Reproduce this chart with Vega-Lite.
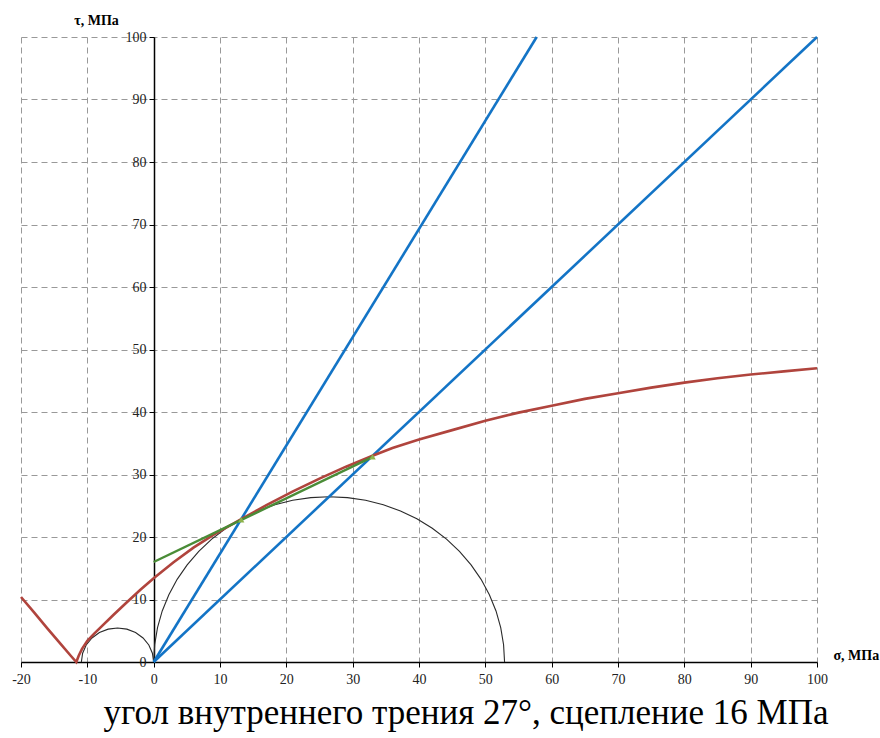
{
  "$schema": "https://vega.github.io/schema/vega-lite/v6.json",
  "width": 796,
  "height": 625,
  "autosize": "none",
  "padding": {"left": 21, "top": 37, "right": 63, "bottom": 76},
  "background": "white",
  "config": {
    "view": {"stroke": null},
    "axis": {
      "labelFont": "Times New Roman, Liberation Serif, DejaVu Serif, serif",
      "labelFontSize": 14,
      "labelColor": "#222",
      "labelFlush": false,
      "labelOverlap": false,
      "domainColor": "#000",
      "domainWidth": 1.5,
      "tickColor": "#000",
      "tickSize": 5,
      "grid": true,
      "gridColor": "#999",
      "gridDash": [6, 4],
      "gridWidth": 1,
      "gridOpacity": 1,
      "titleFont": "Times New Roman, Liberation Serif, DejaVu Serif, serif",
      "titleFontSize": 14,
      "titleFontWeight": "bold",
      "titleColor": "#000"
    }
  },
  "title": {
    "text": "угол внутреннего трения 27°, сцепление 16 МПа",
    "orient": "bottom",
    "anchor": "middle",
    "frame": "group",
    "font": "Times New Roman, Liberation Serif, DejaVu Serif, serif",
    "fontSize": 35,
    "fontWeight": "normal",
    "color": "#000",
    "baseline": "alphabetic",
    "offset": 38,
    "dx": 47
  },
  "datasets": {
    "red": [
      {"s": -20, "t": 10.4}, {"s": -18, "t": 7.9}, {"s": -16, "t": 5.35}, {"s": -14, "t": 2.85},
      {"s": -12.5, "t": 1.0}, {"s": -11.66, "t": 0}, {"s": -11.3, "t": 1.0}, {"s": -10.8, "t": 2.1},
      {"s": -10, "t": 3.4}, {"s": -9, "t": 4.5}, {"s": -8, "t": 5.55}, {"s": -6, "t": 7.6},
      {"s": -4, "t": 9.6}, {"s": -2, "t": 11.55}, {"s": 0, "t": 13.4}, {"s": 3, "t": 15.95},
      {"s": 6, "t": 18.3}, {"s": 9, "t": 20.35}, {"s": 13.2, "t": 22.85}, {"s": 17, "t": 25.1},
      {"s": 21, "t": 27.3}, {"s": 25, "t": 29.35}, {"s": 29, "t": 31.25}, {"s": 33, "t": 33.0},
      {"s": 36, "t": 34.25}, {"s": 40, "t": 35.6}, {"s": 45, "t": 37.1}, {"s": 50, "t": 38.6},
      {"s": 55, "t": 39.9}, {"s": 60, "t": 41.0}, {"s": 65, "t": 42.1}, {"s": 70, "t": 43.0},
      {"s": 75, "t": 43.9}, {"s": 80, "t": 44.7}, {"s": 85, "t": 45.4}, {"s": 90, "t": 46.0},
      {"s": 95, "t": 46.5}, {"s": 100, "t": 47.0}
    ],
    "circles": [
      {"c": "big", "s": 0, "t": 0}, {"c": "big", "s": 0.15, "t": 2.76}, {"c": "big", "s": 0.58, "t": 5.5},
      {"c": "big", "s": 1.29, "t": 8.17}, {"c": "big", "s": 2.29, "t": 10.76}, {"c": "big", "s": 3.54, "t": 13.23},
      {"c": "big", "s": 5.05, "t": 15.55}, {"c": "big", "s": 6.8, "t": 17.7}, {"c": "big", "s": 8.75, "t": 19.66},
      {"c": "big", "s": 10.9, "t": 21.4}, {"c": "big", "s": 13.23, "t": 22.91}, {"c": "big", "s": 15.69, "t": 24.16},
      {"c": "big", "s": 18.28, "t": 25.16}, {"c": "big", "s": 20.95, "t": 25.87}, {"c": "big", "s": 23.69, "t": 26.3},
      {"c": "big", "s": 26.45, "t": 26.45}, {"c": "big", "s": 29.21, "t": 26.3}, {"c": "big", "s": 31.95, "t": 25.87},
      {"c": "big", "s": 34.62, "t": 25.16}, {"c": "big", "s": 37.21, "t": 24.16}, {"c": "big", "s": 39.68, "t": 22.91},
      {"c": "big", "s": 42.0, "t": 21.4}, {"c": "big", "s": 44.15, "t": 19.66}, {"c": "big", "s": 46.1, "t": 17.7},
      {"c": "big", "s": 47.85, "t": 15.55}, {"c": "big", "s": 49.36, "t": 13.23}, {"c": "big", "s": 50.61, "t": 10.76},
      {"c": "big", "s": 51.61, "t": 8.17}, {"c": "big", "s": 52.32, "t": 5.5}, {"c": "big", "s": 52.75, "t": 2.76},
      {"c": "big", "s": 52.9, "t": 0},
      {"c": "small", "s": -10.9, "t": 0}, {"c": "small", "s": -10.71, "t": 1.41}, {"c": "small", "s": -10.17, "t": 2.73},
      {"c": "small", "s": -9.3, "t": 3.85}, {"c": "small", "s": -8.18, "t": 4.72}, {"c": "small", "s": -6.86, "t": 5.26},
      {"c": "small", "s": -5.45, "t": 5.45}, {"c": "small", "s": -4.04, "t": 5.26}, {"c": "small", "s": -2.73, "t": 4.72},
      {"c": "small", "s": -1.6, "t": 3.85}, {"c": "small", "s": -0.73, "t": 2.73}, {"c": "small", "s": -0.19, "t": 1.41},
      {"c": "small", "s": 0, "t": 0}
    ],
    "blue": [
      {"l": "60", "s": 0, "t": 0}, {"l": "60", "s": 57.74, "t": 100},
      {"l": "45", "s": 0, "t": 0}, {"l": "45", "s": 100, "t": 100}
    ],
    "green": [
      {"s": 0, "t": 16.0}, {"s": 33.1, "t": 32.86}
    ],
    "marks": [
      {"s": 13.2, "t": 22.75}, {"s": 33.0, "t": 32.85}
    ]
  },
  "encoding": {
    "x": {
      "field": "s",
      "type": "quantitative",
      "scale": {"domain": [-20, 100], "nice": false, "zero": false},
      "axis": {
        "values": [-20, -10, 0, 10, 20, 30, 40, 50, 60, 70, 80, 90, 100],
        "labelExpr": "'' + datum.value",
        "labelPadding": 5,
        "title": "σ, МПа",
        "titleAnchor": "start",
        "titleX": 812,
        "titleY": -7,
        "titleAlign": "left",
        "titleBaseline": "middle"
      }
    },
    "y": {
      "field": "t",
      "type": "quantitative",
      "scale": {"domain": [0, 100], "nice": false, "zero": false},
      "axis": {
        "values": [0, 10, 20, 30, 40, 50, 60, 70, 80, 90, 100],
        "offset": -133,
        "labelPadding": 3,
        "title": "τ, МПа",
        "titleAngle": 0,
        "titleX": -58,
        "titleY": -17,
        "titleAlign": "center",
        "titleBaseline": "middle"
      }
    }
  },
  "layer": [
    {
      "data": {"name": "circles"},
      "mark": {"type": "line", "color": "#2a2a2a", "strokeWidth": 1.1},
      "encoding": {"detail": {"field": "c"}}
    },
    {
      "data": {"name": "blue"},
      "mark": {"type": "line", "color": "#1374c6", "strokeWidth": 2.6},
      "encoding": {"detail": {"field": "l"}}
    },
    {
      "data": {"name": "red"},
      "mark": {"type": "line", "color": "#b0443d", "strokeWidth": 2.6},
      "encoding": {}
    },
    {
      "data": {"name": "green"},
      "mark": {"type": "line", "color": "#4a8c37", "strokeWidth": 2.4},
      "encoding": {}
    },
    {
      "data": {"name": "marks"},
      "mark": {"type": "point", "shape": "triangle-up", "filled": true, "color": "#8db34c", "size": 40, "opacity": 1},
      "encoding": {}
    }
  ]
}
